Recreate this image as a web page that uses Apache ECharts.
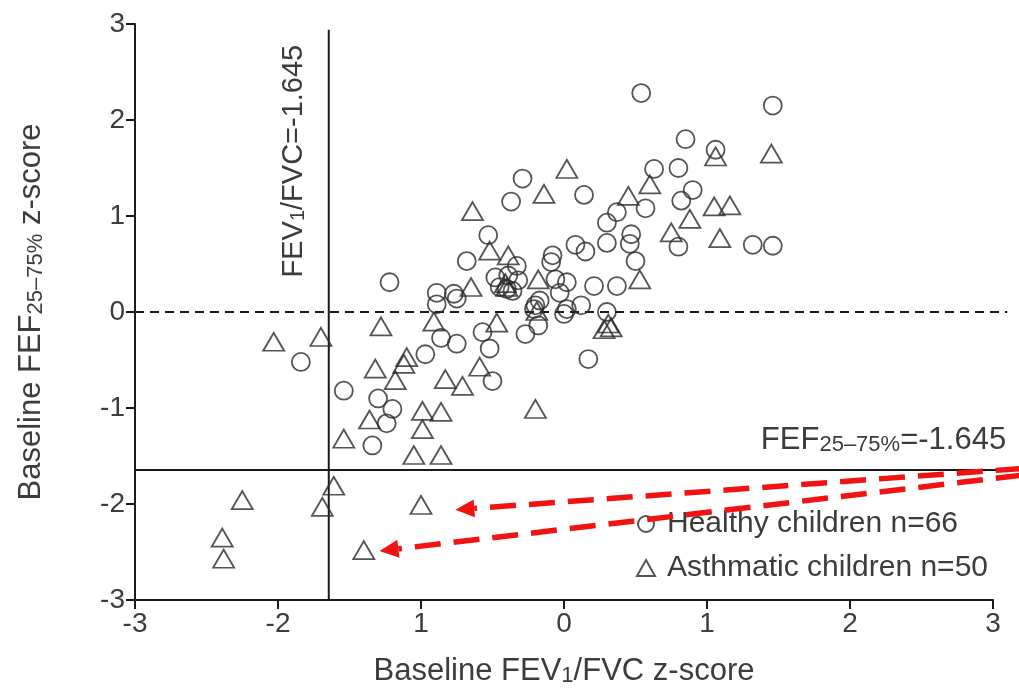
<!DOCTYPE html>
<html>
<head>
<meta charset="utf-8">
<title>Baseline FEV1/FVC vs FEF25–75% z-scores</title>
<script src="https://cdn.jsdelivr.net/npm/echarts@6/dist/echarts.min.js"></script>
<style>
  html, body { margin: 0; padding: 0; background: #fff; }
  #chart { width: 1019px; height: 692px; }
</style>
</head>
<body>
<div id="chart"></div>
<script>
// Tick labels as printed on each axis
const xTickValues = [-3, -2, -1, 0, 1, 2, 3];
const xTickLabels = ['-3', '-2', '1', '0', '1', '2', '3'];
const yTickValues = [-3, -2, -1, 0, 1, 2, 3];
const yTickLabels = ['-3', '-2', '-1', '0', '1', '2', '3'];

// Lower limit of normal (z = -1.645) for both indices
const fevFvcCutoff = -1.645;
const fefCutoff = -1.645;

// Healthy children: [FEV1/FVC z-score, FEF25-75% z-score]
const healthy = [
  [0.54, 2.28], [1.46, 2.15], [0.85, 1.80], [1.06, 1.69], [0.63, 1.49],
  [0.80, 1.50], [-0.29, 1.39], [0.14, 1.22], [0.90, 1.27], [-0.37, 1.15],
  [0.82, 1.16], [0.57, 1.08], [0.37, 1.04], [0.30, 0.93], [-0.53, 0.80],
  [0.80, 0.68], [1.32, 0.70], [1.46, 0.69], [0.30, 0.72], [0.47, 0.81],
  [0.46, 0.71], [0.50, 0.53], [0.08, 0.70], [0.15, 0.63], [-0.08, 0.59],
  [-0.09, 0.52], [-0.68, 0.53], [-0.33, 0.48], [-0.48, 0.36], [-0.39, 0.38],
  [-0.32, 0.33], [-0.45, 0.26], [-0.40, 0.24], [-0.36, 0.22], [-0.06, 0.34],
  [0.02, 0.31], [-0.03, 0.20], [0.21, 0.27], [0.37, 0.27], [-1.22, 0.31],
  [-0.89, 0.20], [-0.77, 0.19], [-0.75, 0.14], [-0.89, 0.08], [-0.20, 0.07],
  [-0.17, 0.12], [-0.21, 0.03], [0.00, -0.02], [0.02, 0.03], [0.12, 0.07],
  [0.30, 0.00], [-0.27, -0.23], [-0.18, -0.14], [0.17, -0.49], [-0.86, -0.27],
  [-0.75, -0.33], [-0.97, -0.44], [-0.57, -0.21], [-0.52, -0.38], [-0.50, -0.72],
  [-1.84, -0.52], [-1.54, -0.82], [-1.30, -0.90], [-1.20, -1.01], [-1.24, -1.16],
  [-1.34, -1.39]
];

// Asthmatic children: [FEV1/FVC z-score, FEF25-75% z-score]
const asthmatic = [
  [-2.03, -0.31], [-1.70, -0.26], [-1.28, -0.15], [-0.91, -0.10], [-1.32, -0.59],
  [-1.12, -0.54], [-1.10, -0.47], [-1.18, -0.71], [-0.83, -0.70], [-1.36, -1.12],
  [-0.99, -1.03], [-0.86, -1.04], [-0.99, -1.22], [-1.54, -1.32], [-1.05, -1.49],
  [-0.86, -1.49], [-1.61, -1.81], [-1.69, -2.03], [-2.25, -1.96], [-1.00, -2.01],
  [-2.39, -2.35], [-2.38, -2.57], [-1.40, -2.48], [0.02, 1.49], [1.06, 1.62],
  [1.45, 1.65], [0.60, 1.33], [0.45, 1.21], [-0.14, 1.23], [-0.64, 1.05],
  [1.05, 1.10], [1.16, 1.11], [0.88, 0.97], [0.75, 0.83], [1.09, 0.77],
  [0.53, 0.34], [-0.52, 0.64], [-0.39, 0.59], [-0.65, 0.26], [-0.18, 0.34],
  [-0.41, 0.30], [-0.19, 0.01], [0.28, -0.18], [0.33, -0.16], [0.31, -0.12],
  [-0.47, -0.11], [-0.59, -0.57], [-0.71, -0.77], [-0.20, -1.01], [-0.40, 0.26]
];

// Reference lines: [x1, y1, x2, y2] in z-score units
const zeroLine = [-3, 0, 3.1, 0];
const fefLine = [-3, fefCutoff, 3.05, fefCutoff];
const fevLine = [fevFvcCutoff, -3, fevFvcCutoff, 2.94];
const guideLabels = ['', 'FEF{sub|25–75%}=-1.645', 'FEV{sub|1}/FVC=-1.645'];

// Red pointers: [x start, y start, x tip, y tip]
const pointerA = [3.2, -1.63, -0.76, -2.06];
const pointerB = [3.2, -1.70, -1.29, -2.49];

const FONT = '"Liberation Sans", Arial, sans-serif';
const TEXT = '#3c3c3c';
const INK = '#1a1a1a';
const RED = '#f21212';

function subRich(size) {
  return { sub: { fontSize: Math.round(size * 0.7), fontFamily: FONT, color: TEXT, verticalAlign: 'bottom' } };
}

const chart = echarts.init(document.getElementById('chart'), null, { renderer: 'canvas' });

// Cut-off and zero reference lines, with their captions
function renderGuide(params, api) {
  const p1 = api.coord([api.value(0), api.value(1)]);
  const p2 = api.coord([api.value(2), api.value(3)]);
  const idx = params.dataIndex;
  const children = [{
    type: 'line',
    shape: { x1: p1[0], y1: p1[1], x2: p2[0], y2: p2[1] },
    style: { stroke: INK, lineWidth: 2, lineDash: idx === 0 ? [9, 6] : null }
  }];
  if (idx === 1) {
    children.push({
      type: 'text',
      x: p2[0] + 6, y: p2[1] - 14,
      style: {
        text: guideLabels[idx], rich: subRich(31), fontSize: 31, fontFamily: FONT,
        fill: TEXT, align: 'right', verticalAlign: 'bottom'
      }
    });
  } else if (idx === 2) {
    children.push({
      type: 'text',
      x: p2[0] - 20, y: p2[1] + 15,
      rotation: Math.PI / 2,
      style: {
        text: guideLabels[idx], rich: subRich(29), fontSize: 29, fontFamily: FONT,
        fill: TEXT, align: 'right', verticalAlign: 'bottom'
      }
    });
  }
  return { type: 'group', children };
}

// Dashed red pointer ending in a solid arrowhead
function renderPointer(params, api) {
  const p1 = api.coord([api.value(0), api.value(1)]);
  const p2 = api.coord([api.value(2), api.value(3)]);
  const dx = p2[0] - p1[0], dy = p2[1] - p1[1];
  const len = Math.sqrt(dx * dx + dy * dy);
  const ux = dx / len, uy = dy / len;
  const headLen = 19, headHalf = 9;
  const bx = p2[0] - ux * headLen, by = p2[1] - uy * headLen;
  return {
    type: 'group',
    children: [
      {
        type: 'line',
        shape: { x1: p1[0], y1: p1[1], x2: bx, y2: by },
        style: { stroke: RED, lineWidth: 5.5, lineDash: [26, 13], lineCap: 'butt' }
      },
      {
        type: 'polygon',
        shape: { points: [[p2[0], p2[1]], [bx - uy * headHalf, by + ux * headHalf], [bx + uy * headHalf, by - ux * headHalf]] },
        style: { fill: RED }
      }
    ]
  };
}

const axisCommon = {
  type: 'value', min: -3, max: 3, interval: 1,
  nameLocation: 'middle',
  axisLine: { onZero: false, lineStyle: { color: INK, width: 2 } },
  axisTick: { length: 9, lineStyle: { color: INK, width: 2 } },
  splitLine: { show: false }
};

chart.setOption({
  animation: false,
  backgroundColor: '#fff',
  grid: { left: 135, right: 26, top: 24, bottom: 90, containLabel: false },
  xAxis: Object.assign({}, axisCommon, {
    name: 'Baseline FEV{sub|1}/FVC z-score',
    nameGap: 56,
    nameTextStyle: { fontSize: 31, fontFamily: FONT, color: TEXT, rich: subRich(31) },
    axisLabel: {
      fontSize: 28, fontFamily: FONT, color: TEXT, margin: 10,
      formatter: v => xTickLabels[xTickValues.indexOf(Math.round(v))]
    }
  }),
  yAxis: Object.assign({}, axisCommon, {
    name: 'Baseline FEF{sub|25–75%} z-score',
    nameGap: 88, nameRotate: 90,
    nameTextStyle: { fontSize: 31, fontFamily: FONT, color: TEXT, rich: subRich(31) },
    axisLabel: {
      fontSize: 28, fontFamily: FONT, color: TEXT, margin: 10,
      formatter: v => yTickLabels[yTickValues.indexOf(Math.round(v))]
    }
  }),
  legend: {
    orient: 'vertical', left: 631, top: 504,
    itemWidth: 18, itemHeight: 16, itemGap: 14,
    textStyle: { fontSize: 30, fontFamily: FONT, color: TEXT, padding: [0, 0, 0, 7] },
    data: [
      { name: 'Healthy children n=66', icon: 'circle' },
      { name: 'Asthmatic children n=50', icon: 'triangle' }
    ]
  },
  series: [
    {
      name: 'Healthy children n=66',
      type: 'scatter',
      symbol: 'circle',
      symbolSize: 18,
      data: healthy,
      itemStyle: { color: 'rgba(255,255,255,0)', borderColor: '#2a2a2a', borderWidth: 1.8 },
      z: 3
    },
    {
      name: 'Asthmatic children n=50',
      type: 'scatter',
      symbol: 'triangle',
      symbolSize: [21, 18],
      data: asthmatic,
      itemStyle: { color: 'rgba(255,255,255,0)', borderColor: '#2a2a2a', borderWidth: 1.8 },
      z: 3
    },
    {
      name: 'guides',
      type: 'custom',
      clip: false,
      silent: true,
      z: 2,
      encode: { x: [0, 2], y: [1, 3] },
      data: [zeroLine, fefLine, fevLine],
      renderItem: renderGuide
    },
    {
      name: 'pointers',
      type: 'custom',
      clip: false,
      silent: true,
      z: 5,
      encode: { x: [0, 2], y: [1, 3] },
      data: [pointerA, pointerB],
      renderItem: renderPointer
    }
  ]
});
</script>
</body>
</html>
